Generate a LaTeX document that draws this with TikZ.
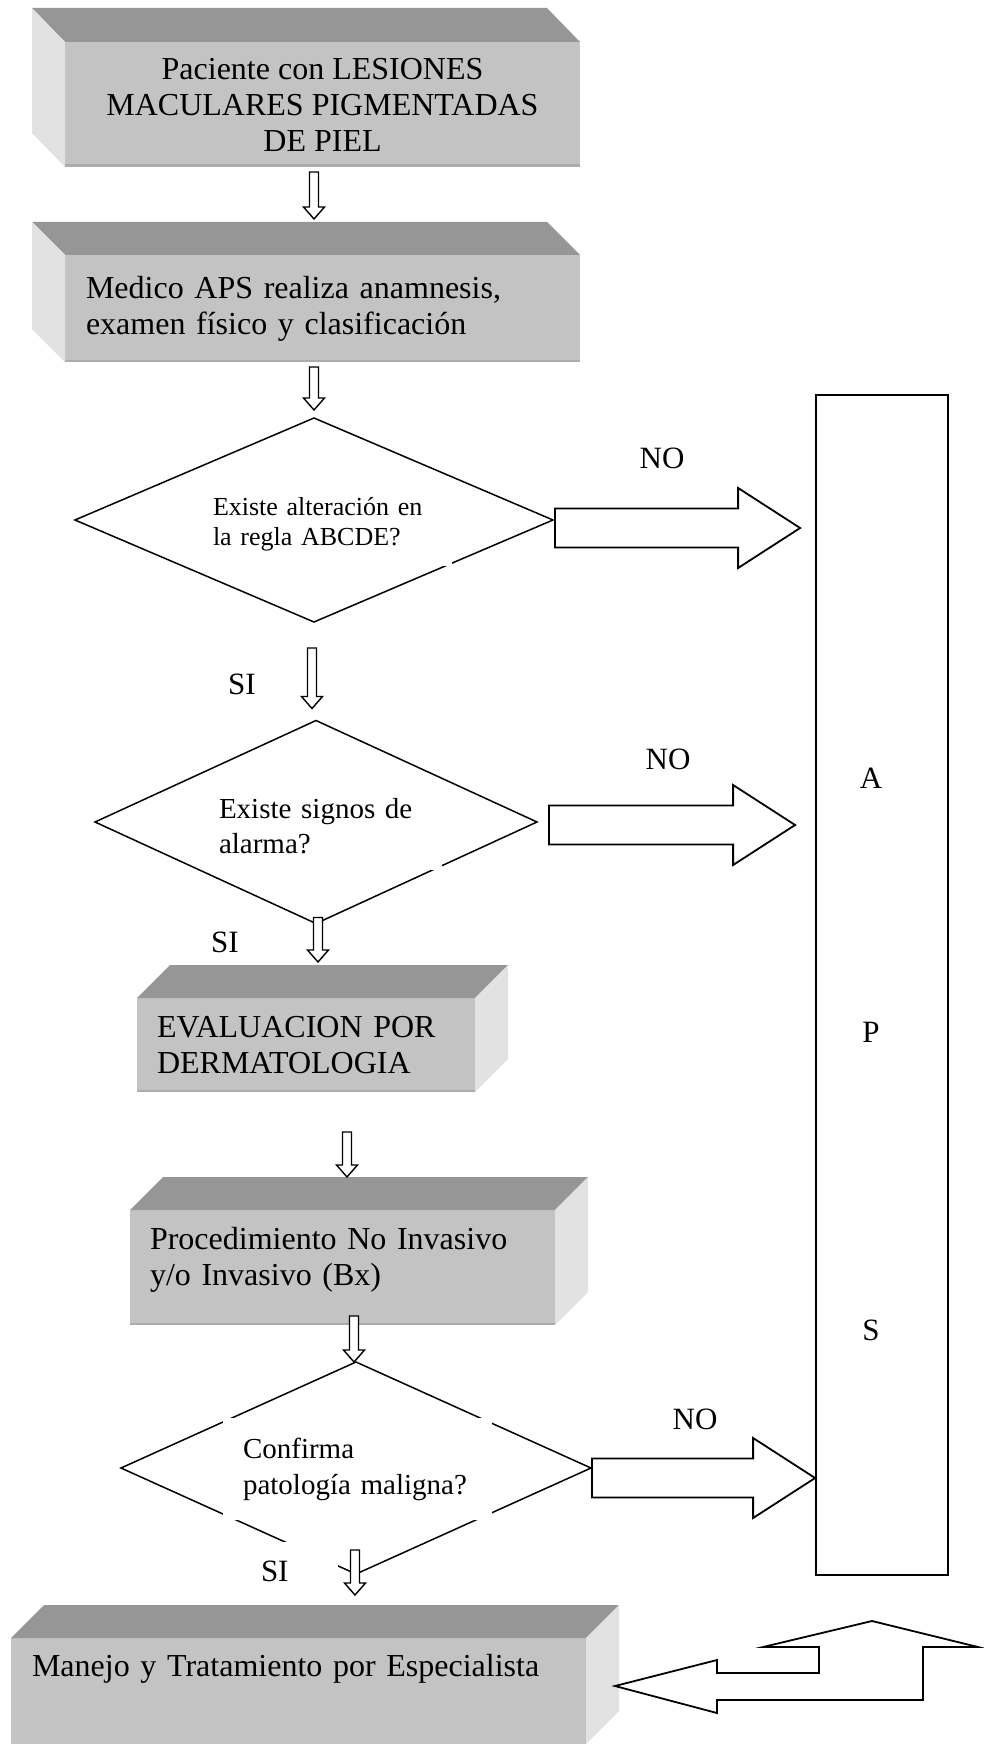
\documentclass[tikz,border=0pt]{standalone}
\usepackage{fontspec}
\setmainfont{Liberation Serif}
\usetikzlibrary{shapes.geometric, calc}

\definecolor{topgray}{RGB}{150,150,150}
\definecolor{frontgray}{RGB}{195,195,195}
\definecolor{sidegray}{RGB}{226,226,226}
\definecolor{edgegray}{RGB}{172,172,172}

\begin{document}
\begin{tikzpicture}[x=1pt, y=-1pt,
  front/.style={rectangle, fill=frontgray, inner sep=0pt, outer sep=0pt,
    font=\fontsize{32}{36}\selectfont},
  edged/.style={path picture={\fill[edgegray] ([yshift=2.5pt]path picture bounding box.south west)
    rectangle (path picture bounding box.south east);}},
  topface/.style={fill=topgray},
  sideface/.style={fill=sidegray},
  decision/.style={diamond, draw, line width=1.5pt, inner sep=0pt, outer sep=0pt},
  qtext/.style={fill=white, inner ysep=0pt, align=left},
  lbl/.style={font=\fontsize{31}{36}\selectfont},
  downarr/.style={draw, fill=white, line width=1.4pt, to path={
      let \p1=(\tikztostart), \p2=(\tikztotarget) in
      (\x1-4.5pt,\y1) -- (\x1+4.5pt,\y1) -- (\x1+4.5pt,\y2+12pt) -- (\x1+10.5pt,\y2+12pt)
      -- (\x1,\y2) -- (\x1-10.5pt,\y2+12pt) -- (\x1-4.5pt,\y2+12pt) -- cycle}},
  rightarr/.style={draw, fill=white, line width=1.8pt, to path={
      let \p1=(\tikztostart), \p2=(\tikztotarget) in
      (\x1,\y1+19.5pt) -- (\x2-62pt,\y1+19.5pt) -- (\x2-62pt,\y1+40pt) -- (\x2,\y1)
      -- (\x2-62pt,\y1-40pt) -- (\x2-62pt,\y1-19.5pt) -- (\x1,\y1-19.5pt) -- cycle}}]

\useasboundingbox (0,0) rectangle (984,1744);

% cajas
\node[front, edged, minimum width=515, minimum height=125, align=center] (b1) at (322.5,104.5)
  {Paciente con LESIONES\\MACULARES PIGMENTADAS\\DE PIEL};
\fill[topface] (b1.north west) -- ++(-33,-34) -- ++(515,0) -- (b1.north east) -- cycle;
\fill[sideface] (b1.north west) -- ++(-33,-34) -- ++(0,125) -- (b1.south west) -- cycle;

\node[front, edged, minimum width=515, minimum height=107, text width=473, inner xsep=21, align=left] (b2) at (322.5,308.5)
  {Medico APS realiza anamnesis,\\examen físico y clasificación};
\fill[topface] (b2.north west) -- ++(-33,-33) -- ++(515,0) -- (b2.north east) -- cycle;
\fill[sideface] (b2.north west) -- ++(-33,-33) -- ++(0,107) -- (b2.south west) -- cycle;

\node[front, edged, minimum width=338, minimum height=94, text width=298, inner xsep=20, align=left] (b3) at (306,1045)
  {EVALUACION POR\\DERMATOLOGIA};
\fill[topface] (b3.north west) -- ++(33,-33) -- ++(338,0) -- (b3.north east) -- cycle;
\fill[sideface] (b3.north east) -- ++(33,-33) -- ++(0,94) -- (b3.south east) -- cycle;

\node[front, edged, minimum width=425, minimum height=115, text width=385, inner xsep=20, text depth=58pt, align=left] (b4) at (342.5,1267.5)
  {Procedimiento No Invasivo\\y/o Invasivo (Bx)};
\fill[topface] (b4.north west) -- ++(33,-33) -- ++(425,0) -- (b4.north east) -- cycle;
\fill[sideface] (b4.north east) -- ++(33,-33) -- ++(0,115) -- (b4.south east) -- cycle;

\node[front, minimum width=575, minimum height=126, text width=533, inner xsep=21, align=left] (b5) at (298.5,1701)
  {Manejo y Tratamiento por Especialista\\~\\~};
\fill[topface] (b5.north west) -- ++(33,-33) -- ++(575,0) -- (b5.north east) -- cycle;
\fill[sideface] (b5.north east) -- ++(33,-33) -- ++(0,106) -- ($(b5.north east)+(0,106)$) -- cycle;

% decisiones
\node[decision, minimum width=478, minimum height=204] (q1) at (314,520) {};
\node[decision, minimum width=442, minimum height=203] (q2) at (316,822) {};
\node[decision, minimum width=470, minimum height=212] (q3) at (356,1468) {};

\node[qtext, font=\fontsize{26}{30}\selectfont, minimum width=252, minimum height=84, text width=226, inner xsep=13] (q1t) at (326,524)
  {Existe alteración en\\la regla ABCDE?};
\node[qtext, font=\fontsize{29}{35}\selectfont, minimum width=237, minimum height=88, text width=209, inner xsep=14] (q2t) at (323.5,826)
  {Existe signos de\\alarma?};
\node[qtext, font=\fontsize{29}{36}\selectfont, minimum width=269, minimum height=102, text width=229, inner xsep=20] (q3t) at (357.5,1469)
  {Confirma\\patología maligna?};

\node[draw, line width=1.8pt, inner sep=0pt, minimum width=132, minimum height=1180] (aps) at (882,985) {};
\node[lbl] (la) at (871,778) {A};
\node[lbl] (lp) at (871,1032) {P};
\node[lbl] (ls) at (871,1330) {S};

% flechas
\coordinate (a1s) at ($(b1.south -| q1.north)+(0,5)$);
\coordinate (a1e) at ($(b2.north -| q1.north)+(0,-36)$);
\coordinate (a2s) at ($(b2.south -| q1.north)+(0,5)$);
\coordinate (a2e) at ($(q1.north)+(0,-8)$);
\coordinate (a3s) at ($(q1.south)+(-2,26)$);
\coordinate (a3e) at ($(q2.north -| q1.south)+(-2,-12)$);
\coordinate (a4s) at ($(q2.south)+(2,-6)$);
\coordinate (a4e) at ($(q2.south |- b3.north)+(2,-36)$);
\coordinate (a5s) at ($(b4.north)+(4.5,-78)$);
\coordinate (a5e) at ($(b4.north)+(4.5,-33)$);
\coordinate (a6s) at ($(q3.north)+(-2,-46)$);
\coordinate (a6e) at ($(q3.north)+(-2,0)$);
\coordinate (a7s) at ($(q3.south)+(-1,-24)$);
\coordinate (a7e) at ($(q3.south |- b5.north)+(-1,-43)$);

\draw[downarr] (a1s) to (a1e);
\draw[downarr] (a2s) to (a2e);
\draw[downarr] (a3s) to (a3e);
\draw[downarr] (a4s) to (a4e);
\draw[downarr] (a5s) to (a5e);
\draw[downarr] (a6s) to (a6e);

\coordinate (n1s) at ($(q1.east)+(2,8)$);
\coordinate (n1e) at ($(q1.east -| aps.west)+(-15,8)$);
\coordinate (n2s) at ($(q2.east)+(12,3)$);
\coordinate (n2e) at ($(q2.east -| aps.west)+(-20,3)$);
\coordinate (n3s) at ($(q3.east)+(1,10)$);
\coordinate (n3e) at ($(q3.east -| aps.west)+(0,10)$);

\draw[rightarr] (n1s) to (n1e);
\draw[rightarr] (n2s) to (n2e);
\draw[rightarr] (n3s) to (n3e);

\node[lbl] (no1) at (662,458) {NO};
\node[lbl] (no2) at (668,759) {NO};
\node[lbl] (no3) at (695,1419) {NO};
\node[lbl] (si1) at (242,684) {SI};
\node[lbl] (si2) at (225,942) {SI};
\node[lbl, fill=white, minimum width=88, minimum height=58, text width=66, inner xsep=11, align=left] (si3) at (294,1571) {SI};
\draw[downarr] (a7s) to (a7e);

% vuelta
\draw[line width=1.8pt, fill=white] (615,1686) -- (717,1660) -- (717,1673) -- (819,1673) -- (819,1647)
  -- (763,1647) -- (872,1621) -- (978,1647) -- (923,1647) -- (923,1700) -- (717,1700) -- (717,1713) -- cycle;
\end{tikzpicture}
\end{document}
